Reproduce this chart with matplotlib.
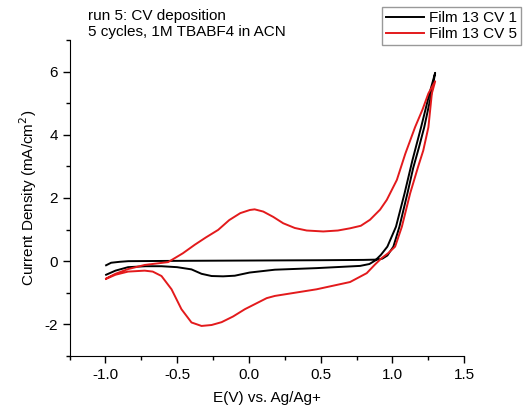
import numpy as np
import matplotlib.pyplot as plt
from matplotlib.ticker import MultipleLocator

plt.rcParams['font.family'] = ['Liberation Sans', 'DejaVu Sans']
plt.rcParams['axes.unicode_minus'] = False

# Film 13 CV 1 (black): forward sweep then reverse
cv1_e = [-0.995, -0.96, -0.9, -0.84, -0.5, 0.0, 0.5, 0.8, 0.9, 0.93, 0.965, 1.007, 1.049, 1.105, 1.145,
         1.185, 1.222, 1.272, 1.298,
         1.258, 1.2, 1.14, 1.085, 1.025, 0.965, 0.92, 0.88, 0.84, 0.775, 0.472, 0.181, 0.005, -0.098,
         -0.18, -0.26, -0.33, -0.4, -0.5, -0.609, -0.72, -0.842, -0.93, -0.995]
cv1_j = [-0.13, -0.05, -0.02, 0.0, 0.01, 0.02, 0.03, 0.04, 0.05, 0.08, 0.18, 0.46, 1.09, 2.15, 2.95,
         3.6, 4.24, 5.3, 5.96,
         5.3, 4.24, 3.2, 2.15, 1.09, 0.46, 0.2, 0.02, -0.09, -0.15, -0.22, -0.27, -0.36, -0.46,
         -0.48, -0.47, -0.4, -0.26, -0.19, -0.16, -0.16, -0.19, -0.3, -0.43]

# Film 13 CV 5 (red)
cv5_e = [-0.995, -0.93, -0.842, -0.726, -0.563, -0.46, -0.377, -0.3, -0.214, -0.137, -0.06, 0.007,
         0.04, 0.1, 0.17, 0.239, 0.32, 0.403, 0.518, 0.62, 0.705, 0.78, 0.844, 0.914, 0.961, 1.031,
         1.09, 1.158, 1.21, 1.251, 1.298,
         1.275, 1.251, 1.215, 1.18, 1.124, 1.066, 1.019, 0.97, 0.926, 0.88, 0.821, 0.705, 0.472, 0.181,
         0.124, -0.028, -0.11, -0.19, -0.26, -0.33, -0.4, -0.47, -0.539, -0.609, -0.67, -0.726,
         -0.842, -0.93, -0.995]
cv5_j = [-0.55, -0.4, -0.25, -0.12, -0.03, 0.25, 0.52, 0.75, 0.99, 1.3, 1.52, 1.62,
         1.64, 1.57, 1.4, 1.2, 1.05, 0.97, 0.94, 0.97, 1.04, 1.12, 1.31, 1.63, 1.94, 2.57,
         3.4, 4.24, 4.8, 5.31, 5.69,
         5.31, 4.24, 3.5, 3.0, 2.15, 1.09, 0.46, 0.25, 0.1, -0.1, -0.38, -0.66, -0.89, -1.1,
         -1.17, -1.52, -1.75, -1.93, -2.02, -2.05, -1.94, -1.52, -0.89, -0.47, -0.33, -0.3,
         -0.33, -0.43, -0.56]

fig = plt.figure(figsize=(5.29, 4.12), dpi=100)
ax = fig.add_axes([0.1314, 0.136, 0.746, 0.767])

ax.plot(cv1_e, cv1_j, color='black', lw=1.4, label='Film 13 CV 1')
ax.plot(cv5_e, cv5_j, color='#e31a1c', lw=1.4, label='Film 13 CV 5')

ax.set_xlim(-1.25, 1.5)
ax.set_ylim(-3, 7)
ax.xaxis.set_major_locator(MultipleLocator(0.5))
ax.xaxis.set_minor_locator(MultipleLocator(0.25))
ax.yaxis.set_minor_locator(MultipleLocator(1))
ax.set_yticks([-2, 0, 2, 4, 6])
ax.tick_params(which='major', direction='out', length=5, width=1, labelsize=11)
ax.tick_params(which='minor', direction='out', length=3, width=1)
ax.spines['top'].set_visible(False)
ax.spines['right'].set_visible(False)

ax.set_xlabel('E(V) vs. Ag/Ag+', fontsize=11, labelpad=7)
ax.set_ylabel('Current Density (mA/cm$^2$)', fontsize=11, labelpad=4)

fig.text(0.166, 0.978, 'run 5: CV deposition\n5 cycles, 1M TBABF4 in ACN',
         fontsize=11, va='top', ha='left', linespacing=1.2)

leg = fig.legend(loc='upper right', bbox_to_anchor=(0.99, 0.99), fontsize=11,
                 handlelength=2.5, fancybox=False, framealpha=1, borderpad=0.25,
                 labelspacing=0.15, handletextpad=0.3, borderaxespad=0.2)
leg.get_frame().set_edgecolor('#999999')

plt.savefig('out.png')
